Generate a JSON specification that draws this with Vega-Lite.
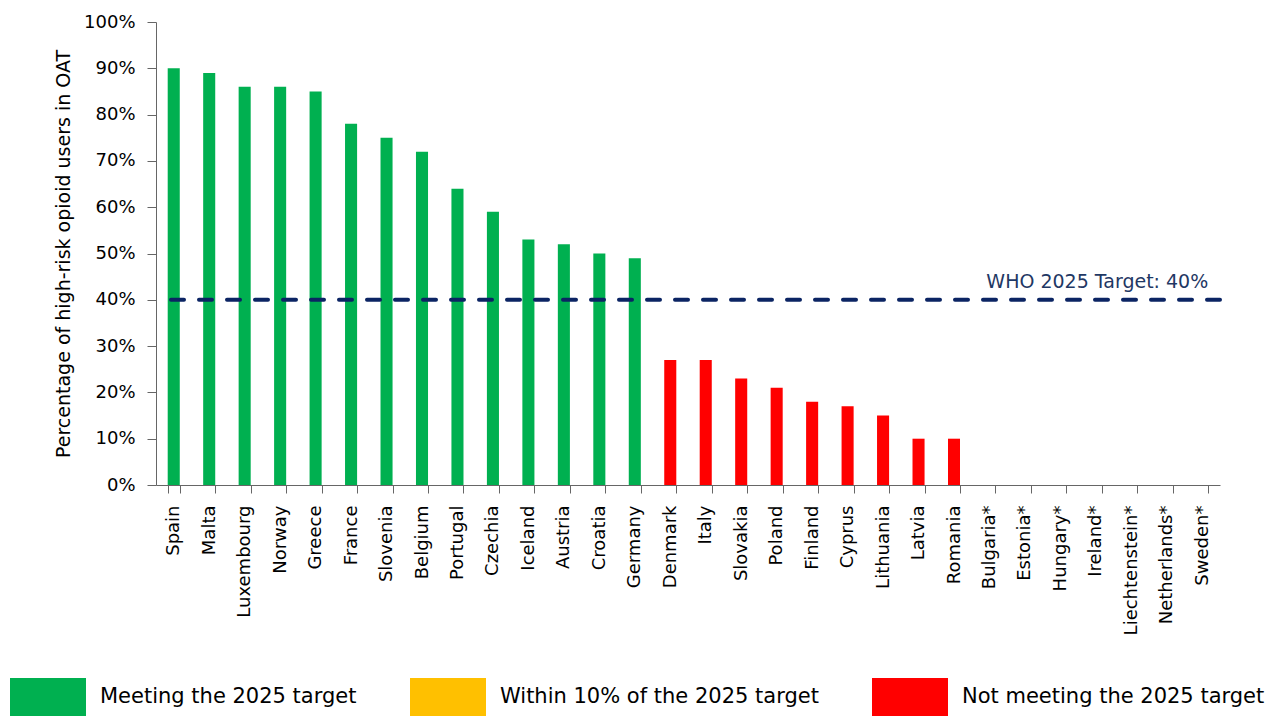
{
  "$schema": "https://vega.github.io/schema/vega-lite/v6.json",
  "width": 1064,
  "height": 463,
  "autosize": {"type": "none"},
  "padding": {"left": 156, "top": 22, "right": 58, "bottom": 231},
  "background": "white",
  "config": {
    "view": {"stroke": null},
    "font": "DejaVu Sans"
  },
  "data": {
    "values": [
      {"country": "Spain", "value": 0.90, "status": "Meeting the 2025 target"},
      {"country": "Malta", "value": 0.89, "status": "Meeting the 2025 target"},
      {"country": "Luxembourg", "value": 0.86, "status": "Meeting the 2025 target"},
      {"country": "Norway", "value": 0.86, "status": "Meeting the 2025 target"},
      {"country": "Greece", "value": 0.85, "status": "Meeting the 2025 target"},
      {"country": "France", "value": 0.78, "status": "Meeting the 2025 target"},
      {"country": "Slovenia", "value": 0.75, "status": "Meeting the 2025 target"},
      {"country": "Belgium", "value": 0.72, "status": "Meeting the 2025 target"},
      {"country": "Portugal", "value": 0.64, "status": "Meeting the 2025 target"},
      {"country": "Czechia", "value": 0.59, "status": "Meeting the 2025 target"},
      {"country": "Iceland", "value": 0.53, "status": "Meeting the 2025 target"},
      {"country": "Austria", "value": 0.52, "status": "Meeting the 2025 target"},
      {"country": "Croatia", "value": 0.50, "status": "Meeting the 2025 target"},
      {"country": "Germany", "value": 0.49, "status": "Meeting the 2025 target"},
      {"country": "Denmark", "value": 0.27, "status": "Not meeting the 2025 target"},
      {"country": "Italy", "value": 0.27, "status": "Not meeting the 2025 target"},
      {"country": "Slovakia", "value": 0.23, "status": "Not meeting the 2025 target"},
      {"country": "Poland", "value": 0.21, "status": "Not meeting the 2025 target"},
      {"country": "Finland", "value": 0.18, "status": "Not meeting the 2025 target"},
      {"country": "Cyprus", "value": 0.17, "status": "Not meeting the 2025 target"},
      {"country": "Lithuania", "value": 0.15, "status": "Not meeting the 2025 target"},
      {"country": "Latvia", "value": 0.10, "status": "Not meeting the 2025 target"},
      {"country": "Romania", "value": 0.10, "status": "Not meeting the 2025 target"},
      {"country": "Bulgaria*", "value": null, "status": "Not meeting the 2025 target"},
      {"country": "Estonia*", "value": null, "status": "Not meeting the 2025 target"},
      {"country": "Hungary*", "value": null, "status": "Not meeting the 2025 target"},
      {"country": "Ireland*", "value": null, "status": "Not meeting the 2025 target"},
      {"country": "Liechtenstein*", "value": null, "status": "Not meeting the 2025 target"},
      {"country": "Netherlands*", "value": null, "status": "Not meeting the 2025 target"},
      {"country": "Sweden*", "value": null, "status": "Not meeting the 2025 target"}
    ]
  },
  "layer": [
    {
      "mark": {"type": "bar"},
      "encoding": {
        "x": {
          "field": "country",
          "type": "nominal",
          "sort": null,
          "scale": {
            "domain": ["Spain","Malta","Luxembourg","Norway","Greece","France","Slovenia","Belgium","Portugal","Czechia","Iceland","Austria","Croatia","Germany","Denmark","Italy","Slovakia","Poland","Finland","Cyprus","Lithuania","Latvia","Romania","Bulgaria*","Estonia*","Hungary*","Ireland*","Liechtenstein*","Netherlands*","Sweden*"],
            "paddingInner": 0.66,
            "paddingOuter": 0.33
          },
          "axis": {
            "title": null,
            "labelAngle": -90,
            "labelAlign": "right",
            "labelBaseline": "middle",
            "labelFontSize": 18,
            "labelColor": "#000000",
            "labelPadding": 12,
            "tickBand": "extent",
            "tickSize": 8,
            "tickColor": "#666666",
            "domainColor": "#666666",
            "labelOverlap": false
          }
        },
        "y": {
          "field": "value",
          "type": "quantitative",
          "scale": {"domain": [0, 1]},
          "axis": {
            "title": "Percentage of high-risk opioid users in OAT",
            "titleFontSize": 19,
            "titleFontWeight": "normal",
            "titleColor": "#000000",
            "titlePadding": 10,
            "format": ".0%",
            "values": [0, 0.1, 0.2, 0.3, 0.4, 0.5, 0.6, 0.7, 0.8, 0.9, 1],
            "labelFontSize": 18,
            "labelColor": "#000000",
            "labelPadding": 12,
            "tickSize": 9,
            "tickColor": "#666666",
            "domainColor": "#666666",
            "grid": false
          }
        },
        "color": {
          "field": "status",
          "type": "nominal",
          "scale": {
            "domain": ["Meeting the 2025 target", "Within 10% of the 2025 target", "Not meeting the 2025 target"],
            "range": ["#00B050", "#FFC000", "#FF0000"]
          },
          "legend": {
            "title": null,
            "orient": "none",
            "legendX": -146,
            "legendY": 637,
            "direction": "horizontal",
            "symbolType": "M-1,-0.5H1V0.5H-1Z",
            "symbolSize": 5776,
            "symbolStrokeWidth": 0,
            "symbolOpacity": 1,
            "labelFontSize": 21,
            "labelColor": "#000000",
            "labelOffset": 14,
            "columnPadding": 53,
            "labelLimit": 400
          }
        }
      }
    },
    {
      "data": {"values": [{"target": 0.4}]},
      "mark": {"type": "rule", "color": "#0B2463", "strokeWidth": 4, "strokeDash": [13, 15], "strokeCap": "round"},
      "encoding": {"y": {"field": "target", "type": "quantitative"}}
    },
    {
      "data": {"values": [{"target": 0.4, "label": "WHO 2025 Target: 40%", "country": "Sweden*"}]},
      "mark": {"type": "text", "align": "right", "baseline": "bottom", "dx": 6, "dy": -8, "fontSize": 19, "color": "#1F3864"},
      "encoding": {
        "x": {"field": "country", "type": "nominal"},
        "y": {"field": "target", "type": "quantitative"},
        "text": {"field": "label"}
      }
    }
  ]
}
